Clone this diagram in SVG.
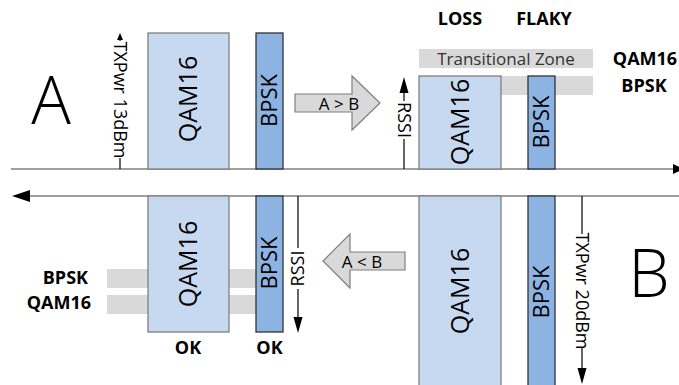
<svg xmlns="http://www.w3.org/2000/svg" width="679" height="385" viewBox="0 0 679 385">
<style>
text{font-family:"Open Sans","Liberation Sans",sans-serif;fill:#000}
.qam{fill:#c6d9f0;stroke:#7f7f7f;stroke-width:1.3}
.bpsk{fill:#8db3e2;stroke:#333;stroke-width:1.3}
.bar{fill:#d9d9d9}
.lbl{font-size:25px;font-weight:400;text-anchor:middle}
.lbs{font-size:22px;font-weight:400;text-anchor:middle}
.ann{font-size:18px;font-weight:400;text-anchor:middle}
.bold{font-size:18px;font-weight:700;text-anchor:middle}
.big{font-size:66px;font-weight:300;text-anchor:middle}
.ln{stroke:#000;stroke-width:1.2;fill:none}
.ah{fill:#000}
.blk{fill:#d9d9d9;stroke:#7f7f7f;stroke-width:1.2}
</style>
<rect width="679" height="385" fill="#fff"/>
<g id="bars">
<rect class="bar" x="419" y="49" width="174" height="19"/>
<text x="506" y="64.5" style="font-size:17px;font-weight:400;text-anchor:middle;fill:#333">Transitional Zone</text>
<rect class="bar" x="419" y="76" width="174" height="19"/>
<rect class="bar" x="107" y="269" width="149" height="19"/>
<rect class="bar" x="107" y="295" width="149" height="19"/>
</g>
<g id="links">
<line x1="11" y1="169" x2="674" y2="169" stroke="#808080" stroke-width="1.7"/>
<polygon class="ah" points="673,164 684,169 673,174"/>
<line x1="28" y1="196" x2="679" y2="196" stroke="#404040" stroke-width="1.2"/>
<polygon class="ah" points="12,196 30,190 30,202"/>
</g>
<g id="node-a-qam"><rect class="qam" x="148" y="33" width="81" height="136"/><text class="lbl" transform="translate(188.5,99) rotate(-90)" y="8.8">QAM16</text></g>
<g id="node-a-bpsk"><rect class="bpsk" x="256" y="33" width="27" height="136"/><text class="lbs" transform="translate(269.5,100.5) rotate(-90)" y="7.8">BPSK</text></g>
<g id="node-b-qam"><rect class="qam" x="419" y="76" width="82" height="93"/><text class="lbl" transform="translate(460,122) rotate(-90)" y="8.8">QAM16</text></g>
<g id="node-b-bpsk"><rect class="bpsk" x="528" y="76" width="27" height="93"/><text class="lbs" transform="translate(541.5,122) rotate(-90)" y="7.8">BPSK</text></g>
<g id="node-c-qam"><rect class="qam" x="148" y="196" width="81" height="136"/><text class="lbl" transform="translate(188.5,264) rotate(-90)" y="8.8">QAM16</text></g>
<g id="node-c-bpsk"><rect class="bpsk" x="256" y="196" width="27" height="136"/><text class="lbs" transform="translate(269.5,263) rotate(-90)" y="7.8">BPSK</text></g>
<g id="node-d-qam"><rect class="qam" x="419" y="196" width="82" height="200"/><text class="lbl" transform="translate(460,291) rotate(-90)" y="8.8">QAM16</text></g>
<g id="node-d-bpsk"><rect class="bpsk" x="528" y="196" width="27" height="200"/><text class="lbs" transform="translate(541.5,292) rotate(-90)" y="7.8">BPSK</text></g>
<g id="node-ab"><polygon class="blk" points="295,94 352,94 352,76 380,103 352,130 352,112 295,112"/><text x="339" y="109.5" style="font-size:17px;font-weight:400;text-anchor:middle">A &gt; B</text></g>
<g id="node-ba"><polygon class="blk" points="405,252 350,252 350,234 323,261 350,288 350,270 405,270"/><text x="362" y="267.5" style="font-size:17px;font-weight:400;text-anchor:middle">A &lt; B</text></g>
<g id="node-txa">
<line class="ln" x1="120" y1="38" x2="120" y2="41"/>
<line class="ln" x1="120" y1="158" x2="120" y2="169"/>
<polygon class="ah" points="120,33 123,40 117,40"/>
<text class="ann" transform="translate(120,100) rotate(90)" y="6.3">TXPwr 13dBm</text>
</g>
<g id="node-rssi-b">
<line class="ln" x1="404" y1="92" x2="404" y2="101"/>
<line class="ln" x1="404" y1="139" x2="404" y2="169"/>
<polygon class="ah" points="404,77 408.5,93 399.5,93"/>
<text class="ann" transform="translate(404,120) rotate(90)" y="6.3">RSSI</text>
</g>
<g id="node-rssi-a">
<line class="ln" x1="298" y1="196" x2="298" y2="248"/>
<line class="ln" x1="298" y1="289" x2="298" y2="318"/>
<polygon class="ah" points="298,333 293.5,317 302.5,317"/>
<text class="ann" transform="translate(298,268.5) rotate(-90)" y="6.3">RSSI</text>
</g>
<g id="node-txb">
<line class="ln" x1="582" y1="196" x2="582" y2="234"/>
<line class="ln" x1="582" y1="348" x2="582" y2="369"/>
<polygon class="ah" points="582,384 577.5,368 586.5,368"/>
<text class="ann" transform="translate(582,291) rotate(90)" y="6.3">TXPwr 20dBm</text>
</g>
<g id="node-A"><text class="big" x="51" y="124">A</text></g>
<g id="node-B"><text class="big" x="649" y="297">B</text></g>
<g id="labels">
<text class="bold" x="460" y="25">LOSS</text>
<text class="bold" x="544" y="25">FLAKY</text>
<text class="bold" x="645" y="65">QAM16</text>
<text class="bold" x="644" y="92">BPSK</text>
<text class="bold" x="88" y="284" style="text-anchor:end">BPSK</text>
<text class="bold" x="91" y="309" style="text-anchor:end">QAM16</text>
<text class="bold" x="188" y="354">OK</text>
<text class="bold" x="269.5" y="354">OK</text>
</g>
</svg>
